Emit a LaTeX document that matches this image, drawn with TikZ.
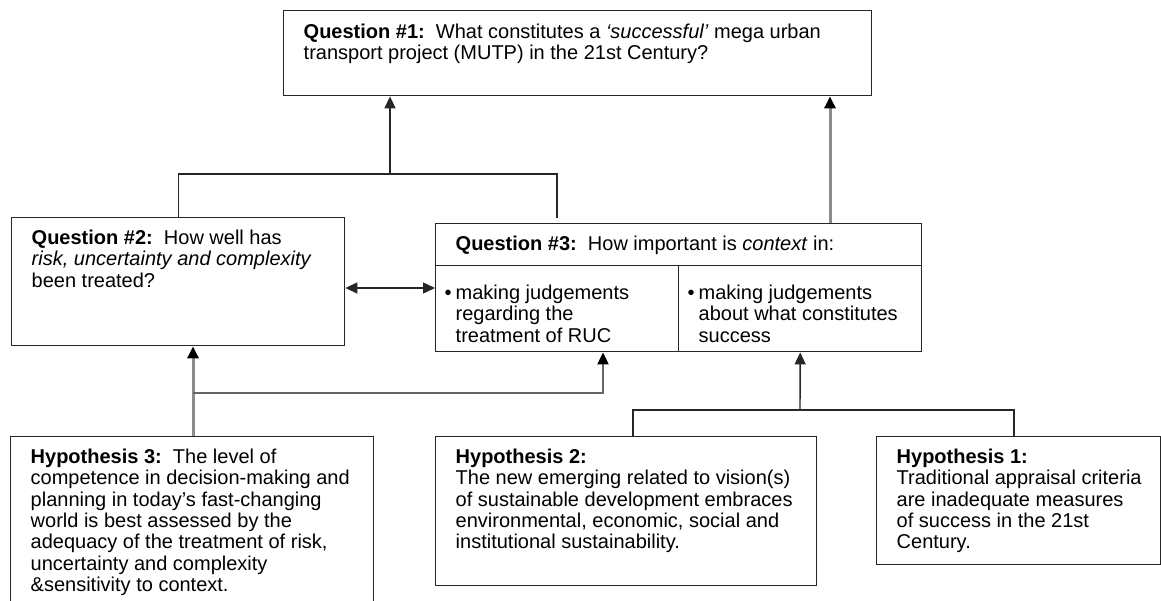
\documentclass[tikz,border=0pt]{standalone}
\usepackage{fontspec}
\setmainfont{Liberation Sans}
\usetikzlibrary{arrows.meta}

% box body: width, height, top gap, lines
\newcommand{\boxtext}[4]{\parbox[t][#2][t]{#1}{\vspace*{#3}\noindent\begin{tabular}[t]{@{}l@{}}#4\end{tabular}}}
% bullet body: height, rows
\newcommand{\bullettext}[2]{\parbox[t][#1][t]{225pt}{\vspace*{19pt}\noindent\begin{tabular}[t]{@{}l@{\hspace{4pt}}l@{}}#2\end{tabular}}}

\begin{document}
\begin{tikzpicture}[x=1pt, y=-1pt, font=\fontsize{20}{21.3}\selectfont,
    box/.style = {draw=black!85, line width=1.4pt, anchor=north west, inner xsep=20pt, inner ysep=0pt},
    subbox/.style = {box, inner xsep=9pt},
    link/.style = {draw=black!85, line width=1.4pt},
    edge/.style = {link, arrows = {-Triangle[width=11pt, length=12pt]}},
    twoway/.style = {link, arrows = {Triangle[width=11pt, length=12pt]-Triangle[width=11pt, length=12pt]}},
    greyedge/.style = {draw=black!45, line width=3pt, arrows = {-Triangle[width=11pt, length=12pt, color=black]}},
    thinedge/.style = {draw=black!60, line width=2pt, arrows = {-Triangle[width=11pt, length=12pt, color=black]}}]
    \useasboundingbox (0,0) rectangle (1161,600);
    % questions
    \node[box] (q1) at (283,10) {\boxtext{548pt}{85pt}{13pt}{\textbf{Question \#1:}\ \ What constitutes a \textit{`successful'} mega urban\\ transport project (MUTP) in the 21st Century?}};
    \node[box] (q2) at (11,217) {\boxtext{293pt}{128pt}{12pt}{\textbf{Question \#2:}\ \ How well has\\ \textit{risk, uncertainty and complexity}\\ been treated?}};
    \node[box] (q3head) at (435,223) {\boxtext{446pt}{42pt}{12pt}{\textbf{Question \#3:}\ \ How important is \textit{context} in:}};
    \node[subbox] (q3a) at (435,265) {\bullettext{86pt}{\textbullet & making judgements\\ & regarding the\\ & treatment of RUC}};
    \node[subbox] (q3b) at (678,265) {\bullettext{86pt}{\textbullet & making judgements\\ & about what constitutes\\ & success}};
    % hypotheses
    \node[box] (h3) at (10,436) {\boxtext{323pt}{170pt}{12pt}{\textbf{Hypothesis 3:}\ \ The level of\\ competence in decision-making and\\ planning in today's fast-changing\\ world is best assessed by the\\ adequacy of the treatment of risk,\\ uncertainty and complexity\\ \&sensitivity to context.}};
    \node[box] (h2) at (435,436) {\boxtext{341pt}{149pt}{12pt}{\textbf{Hypothesis 2:}\\ The new emerging related to vision(s)\\ of sustainable development embraces\\ environmental, economic, social and\\ institutional sustainability.}};
    \node[box] (h1) at (876,436) {\boxtext{244pt}{128pt}{12pt}{\textbf{Hypothesis 1:}\\ Traditional appraisal criteria\\ are inadequate measures\\ of success in the 21st\\ Century.}};

    \coordinate (topjoin) at (390,174);
    \coordinate (q3left) at (557,0);
    \coordinate (ctx) at (830,0);
    \coordinate (mid) at (0,288);
    \coordinate (h3up) at (193,0);
    \coordinate (rucjoin) at (193,393);
    \coordinate (ruc) at (603,0);
    \coordinate (hjoin) at (800,410);
    \coordinate (h2up) at (633,0);
    \coordinate (h1up) at (1014,0);

    \draw[link, shorten >=5pt] (q2.north) |- (topjoin) -| (q3head.north -| q3left);
    \draw[edge] (topjoin) -- (topjoin |- q1.south);
    \draw[greyedge] (q3head.north -| ctx) -- (q1.south -| ctx);
    \draw[twoway] (q2.east |- mid) -- (q3a.west |- mid);
    \draw[greyedge] (h3.north -| h3up) -- (q2.south -| h3up);
    \draw[thinedge] (rucjoin) -| (q3a.south -| ruc);
    \draw[link] (h2.north -| h2up) |- (hjoin) -| (h1.north -| h1up);
    \draw[edge] (hjoin) -- (q3b.south);
\end{tikzpicture}
\end{document}
